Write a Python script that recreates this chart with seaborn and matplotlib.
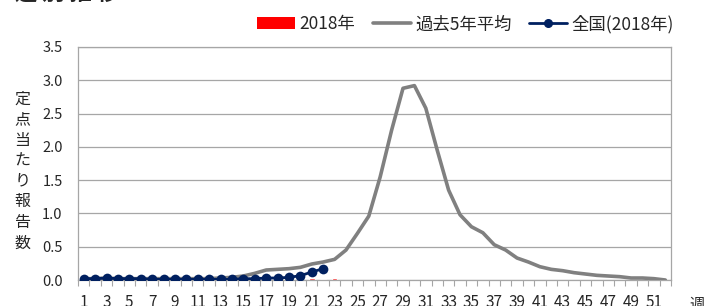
import numpy as np
import pandas as pd
import matplotlib
matplotlib.use('Agg')
import matplotlib.pyplot as plt
from matplotlib.patches import Patch
from matplotlib.lines import Line2D
from matplotlib.ticker import FormatStrFormatter, MultipleLocator
import seaborn as sns

sns.set_style("white")
plt.rcParams['font.family'] = ['Noto Sans CJK JP', 'DejaVu Sans']

# データ
semanas = list(range(1, 53))
promedio_5 = [0.02, 0.02, 0.03, 0.02, 0.02, 0.02, 0.02, 0.02, 0.02, 0.02,
              0.02, 0.02, 0.03, 0.04, 0.06, 0.10, 0.15, 0.16, 0.17, 0.19,
              0.24, 0.27, 0.31, 0.45, 0.70, 0.96, 1.55, 2.25, 2.88, 2.92,
              2.58, 1.95, 1.35, 0.98, 0.80, 0.71, 0.53, 0.45, 0.33, 0.27,
              0.20, 0.16, 0.14, 0.11, 0.09, 0.07, 0.06, 0.05, 0.03, 0.03,
              0.02, 0.00]
nacional_2018 = [0.02, 0.02, 0.03, 0.02, 0.02, 0.02, 0.01, 0.01, 0.01, 0.01,
                 0.01, 0.01, 0.01, 0.01, 0.02, 0.02, 0.03, 0.03, 0.04, 0.065,
                 0.12, 0.17]
pref_2018 = [0.0] * 19 + [0.015, 0.025, 0.01, 0.03]

etiquetas_x = [str(s) for s in range(1, 52, 2)]
etiquetas_leyenda = ['2018年', '過去5年平均', '全国(2018年)']

ROJO = '#ff0000'
GRIS = '#808080'
AZUL = '#002060'
GRILLA = '#a6a6a6'


def plottear():
    fig = plt.figure(figsize=(7.19, 3.06), dpi=100)
    ax = fig.add_axes([78 / 719, 1 - 280 / 306, (671 - 78) / 719, (280 - 47) / 306])

    df_barras = pd.DataFrame({'semana': semanas[:len(pref_2018)], 'valor': pref_2018})
    sns.barplot(data=df_barras, x='semana', y='valor', native_scale=True,
                color=ROJO, width=0.5, saturation=1, ax=ax, zorder=2)
    sns.lineplot(x=semanas, y=promedio_5, color=GRIS, lw=2.6, ax=ax, zorder=3)
    sns.lineplot(x=semanas[:len(nacional_2018)], y=nacional_2018, color=AZUL,
                 lw=2, marker='o', markersize=7, markeredgewidth=0, ax=ax, zorder=4)

    ax.set_xlim(0.5, 52.5)
    ax.set_ylim(0, 3.5)
    ax.yaxis.set_major_locator(MultipleLocator(0.5))
    ax.yaxis.set_major_formatter(FormatStrFormatter('%.1f'))
    ax.set_xticks(range(1, 52, 2))
    ax.set_xticklabels(etiquetas_x)
    ax.set_xticks(np.arange(0.5, 53, 1), minor=True)
    ax.tick_params(axis='x', which='major', length=0, pad=10, labelsize=11)
    ax.tick_params(axis='x', which='minor', length=4, width=0.8, color=GRILLA,
                   direction='out', bottom=True)
    ax.tick_params(axis='y', length=0, pad=11, labelsize=10.5)
    ax.set_xlabel('')
    ax.set_ylabel('')
    ax.set_axisbelow(True)
    ax.grid(axis='y', color=GRILLA, lw=0.9)
    ax.grid(axis='x', visible=False)
    for lado in ax.spines.values():
        lado.set_visible(True)
        lado.set_color(GRILLA)
        lado.set_linewidth(0.9)

    handles = [Patch(facecolor=ROJO, edgecolor='none'),
               Line2D([], [], color=GRIS, lw=2.6),
               Line2D([], [], color=AZUL, lw=2, marker='o', markersize=5.5)]
    fig.legend(handles, etiquetas_leyenda, loc='center right',
               bbox_to_anchor=(674 / 719, 1 - 24 / 306), ncol=3, frameon=False,
               fontsize=12.5, handlelength=2.2, handletextpad=0.25, columnspacing=1.0,
               borderpad=0, borderaxespad=0)

    fig.text(22.5 / 719, 1 - 171 / 306, '\n'.join('定点当たり報告数'),
             ha='center', va='center', fontsize=11.5, linespacing=1.28)
    fig.text(15 / 719, 1 - 1 / 306, '週 別 推 移', ha='left', va='baseline',
             fontsize=16, fontweight='bold')
    fig.text(697 / 719, 1 - 296 / 306, '週', ha='center', va='top', fontsize=11)

    fig.savefig('out.png', dpi=100)
    return fig


plottear()
